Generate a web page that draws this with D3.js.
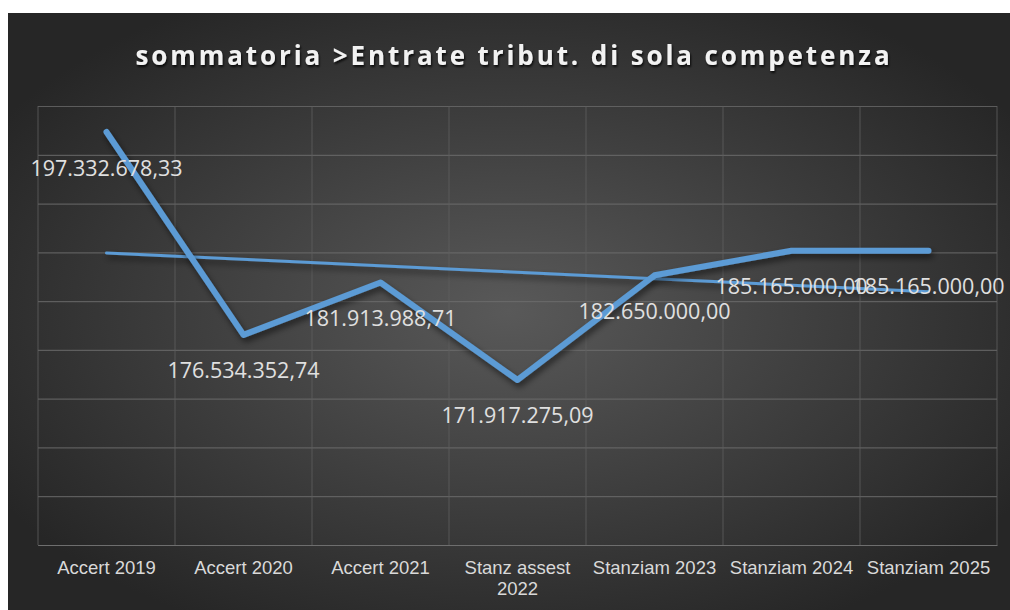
<!DOCTYPE html>
<html>
<head>
<meta charset="utf-8">
<script src="https://cdn.jsdelivr.net/npm/d3@7"></script>
<style>
    body { margin: 0; background: #fff; }
    svg { display: block; }
</style>
</head>
<body>
<script>
// chart values
const categories = ["Accert 2019", "Accert 2020", "Accert 2021", "Stanz assest 2022",
    "Stanziam 2023", "Stanziam 2024", "Stanziam 2025"];
const values = [197332678.33, 176534352.74, 181913988.71, 171917275.09,
    182650000.00, 185165000.00, 185165000.00];
const yTicks = [155e6, 160e6, 165e6, 170e6, 175e6, 180e6, 185e6, 190e6, 195e6, 200e6];
const title = "sommatoria >Entrate tribut. di sola competenza";

const W = 1010, H = 610;
const margin = { top: 106, right: 13, bottom: 65, left: 38 };
const w = W - margin.left - margin.right;
const h = H - margin.top - margin.bottom;

const svg = d3.select("body").append("svg")
    .attr("width", W)
    .attr("height", H);

const defs = svg.append("defs");
const grad = defs.append("radialGradient")
    .attr("id", "bg")
    .attr("cx", "50%").attr("cy", "50%").attr("r", "60%");
grad.append("stop").attr("offset", "0%").attr("stop-color", "#595959");
grad.append("stop").attr("offset", "100%").attr("stop-color", "#262626");

const shadow = defs.append("filter").attr("id", "shadow")
    .attr("x", "-10%").attr("y", "-10%").attr("width", "120%").attr("height", "130%");
shadow.append("feDropShadow")
    .attr("dx", 2).attr("dy", 4).attr("stdDeviation", 3)
    .attr("flood-color", "#000").attr("flood-opacity", 0.55);

const tshadow = defs.append("filter").attr("id", "tshadow");
tshadow.append("feDropShadow")
    .attr("dx", 1).attr("dy", 2).attr("stdDeviation", 1.2)
    .attr("flood-color", "#000").attr("flood-opacity", 0.8);

svg.append("rect")
    .attr("x", 8).attr("y", 13)
    .attr("width", W - 8).attr("height", H - 13)
    .attr("fill", "url(#bg)");

svg.append("text")
    .attr("x", 514)
    .attr("y", 65)
    .attr("text-anchor", "middle")
    .attr("fill", "#f2f2f2")
    .attr("filter", "url(#tshadow)")
    .style("font-family", "'Open Sans', sans-serif")
    .style("font-weight", "bold")
    .style("font-size", "26px")
    .style("letter-spacing", "2.9px")
    .text(title);

const g = svg.append("g")
    .attr("transform", `translate(${margin.left},${margin.top})`);

const x = d3.scaleBand().domain(categories).range([0, w]).padding(0);
const y = d3.scaleLinear().domain([155e6, 200e6]).range([h, 0]);

// horizontal grid
g.append("g")
    .call(d3.axisLeft(y).tickValues(yTicks).tickSize(-w).tickFormat(""))
    .call(s => s.select(".domain").remove())
    .selectAll("line")
    .attr("stroke", "#6e6e6e")
    .attr("stroke-width", 1.2)
    .attr("opacity", 0.75);

// vertical grid at category boundaries
g.append("g")
    .selectAll("line")
    .data(categories.concat([null]))
    .enter().append("line")
    .attr("x1", (d, i) => i * x.step())
    .attr("x2", (d, i) => i * x.step())
    .attr("y1", 0).attr("y2", h)
    .attr("stroke", "#5e5e5e")
    .attr("stroke-width", 1)
    .attr("opacity", 0.8);

// x axis labels
const xAxis = g.append("g")
    .attr("transform", `translate(0,${h})`)
    .call(d3.axisBottom(x).tickSize(0).tickPadding(16));
xAxis.select(".domain").attr("stroke", "#6e6e6e").attr("stroke-width", 1.2);
xAxis.selectAll("text")
    .attr("fill", "#d9d9d9")
    .style("font-family", "'Liberation Sans', Arial, sans-serif")
    .style("font-size", "18.5px")
    .each(function (d) {
        const t = d3.select(this);
        if (d === "Stanz assest 2022") {
            t.text(null);
            t.append("tspan").attr("x", 0).attr("dy", "0.71em").text("Stanz assest");
            t.append("tspan").attr("x", 0).attr("dy", "1.15em").text("2022");
        }
    });

const cx = d => x(d) + x.bandwidth() / 2;

// trendline (linear regression over category index)
const n = values.length;
const mx = d3.mean(values, (v, i) => i + 1);
const my = d3.mean(values);
const slope = d3.sum(values, (v, i) => (i + 1 - mx) * (v - my)) /
    d3.sum(values, (v, i) => (i + 1 - mx) ** 2);
const icpt = my - slope * mx;
const trend = [1, n].map(k => [cx(categories[k - 1]), y(icpt + slope * k)]);

g.append("path")
    .datum(trend)
    .attr("d", d3.line())
    .attr("fill", "none")
    .attr("stroke", "#5b9bd5")
    .attr("stroke-width", 3)
    .attr("stroke-linecap", "round")
    .attr("filter", "url(#shadow)");

// main series
g.append("path")
    .datum(values)
    .attr("d", d3.line().x((d, i) => cx(categories[i])).y(d => y(d)))
    .attr("fill", "none")
    .attr("stroke", "#5b9bd5")
    .attr("stroke-width", 6)
    .attr("stroke-linecap", "round")
    .attr("stroke-linejoin", "round")
    .attr("filter", "url(#shadow)");

// data labels
const fmt = v => {
    const parts = v.toFixed(2).split(".");
    return parts[0].replace(/\B(?=(\d{3})+(?!\d))/g, ".") + "," + parts[1];
};

g.selectAll(".lbl")
    .data(values)
    .enter().append("text")
    .attr("class", "lbl")
    .attr("x", (d, i) => cx(categories[i]))
    .attr("y", d => y(d) + 36)
    .attr("dy", "0.35em")
    .attr("text-anchor", "middle")
    .attr("fill", "#e0e0e0")
    .style("font-family", "'Open Sans', sans-serif")
    .style("font-size", "21.5px")
    .text(fmt);
</script>
</body>
</html>
